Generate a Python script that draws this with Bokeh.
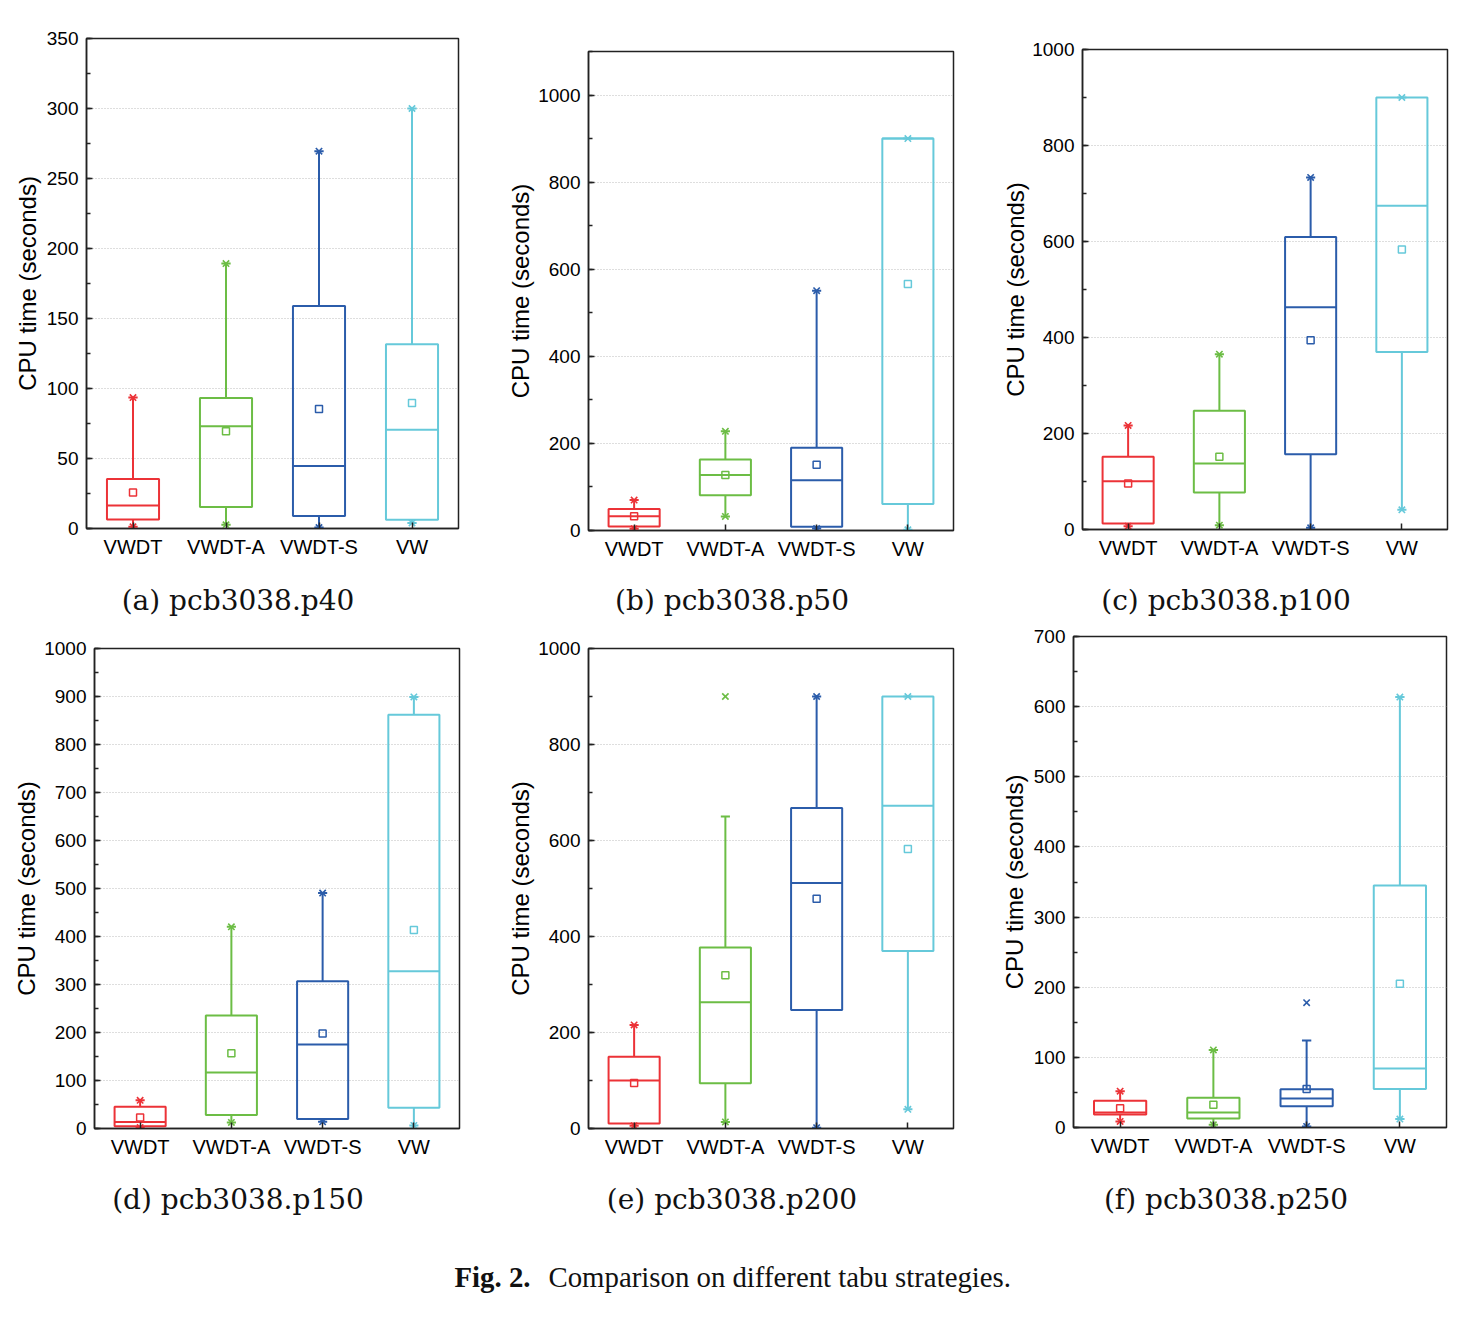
import numpy as np
from bokeh.plotting import figure
from bokeh.models import Range1d, SingleIntervalTicker, FixedTicker, Label, ColumnDataSource
from bokeh.layouts import column, row
from bokeh.embed import file_html
from bokeh.resources import INLINE

categories = ["VWDT", "VWDT-A", "VWDT-S", "VW"]
colors = ["#EC3237", "#6CBD45", "#2B5CAA", "#66C9DA"]
captions = ["(a) pcb3038.p40", "(b) pcb3038.p50", "(c) pcb3038.p100",
            "(d) pcb3038.p150", "(e) pcb3038.p200", "(f) pcb3038.p250"]

# (a) pcb3038.p40
p40_min = [1.2, 2.6, 0.7, 4.0]
p40_q1 = [6.5, 15.3, 8.9, 6.2]
p40_med = [16.5, 73.0, 44.7, 70.6]
p40_q3 = [35.4, 93.3, 158.9, 131.6]
p40_whi = [93.5, 189.2, 269.5, 300.0]
p40_max = [93.5, 189.2, 269.5, 300.0]
p40_mean = [25.8, 69.4, 85.4, 89.7]

# (b) pcb3038.p50
p50_min = [3.8, 32.3, 4.6, 1.5]
p50_q1 = [9.2, 80.8, 8.5, 60.8]
p50_med = [33.0, 127.7, 115.4, 900.0]
p50_q3 = [49.2, 163.0, 190.0, 900.0]
p50_whi = [70.0, 227.7, 550.6, 900.0]
p50_max = [70.0, 227.7, 550.6, 900.0]
p50_mean = [33.0, 127.7, 150.8, 566.0]

# (c) pcb3038.p100
p100_min = [7.0, 9.0, 3.5, 41.0]
p100_q1 = [12.5, 77.1, 157.0, 370.0]
p100_med = [100.7, 137.5, 463.0, 674.5]
p100_q3 = [151.4, 247.2, 609.3, 900.0]
p100_whi = [216.7, 365.3, 733.5, 900.0]
p100_max = [216.7, 365.3, 733.5, 900.0]
p100_mean = [95.8, 151.4, 394.4, 583.3]

# (d) pcb3038.p150
p150_min = [2.0, 12.6, 14.0, 6.3]
p150_q1 = [4.9, 28.0, 19.6, 43.4]
p150_med = [13.3, 116.8, 174.8, 327.5]
p150_q3 = [45.5, 235.6, 306.7, 861.8]
p150_whi = [58.7, 420.1, 490.4, 899.0]
p150_max = [58.7, 420.1, 490.4, 899.0]
p150_mean = [23.0, 156.6, 198.1, 413.7]

# (e) pcb3038.p200
p200_min = [5.6, 13.6, 1.6, 40.0]
p200_q1 = [10.4, 94.2, 246.8, 369.8]
p200_med = [99.8, 262.8, 511.2, 672.5]
p200_q3 = [149.4, 377.0, 667.7, 900.0]
p200_whi = [215.7, 650.2, 900.0, 900.0]
p200_max = [215.7, 900.0, 900.0, 900.0]
p200_mean = [95.0, 319.5, 478.4, 582.3]

# (f) pcb3038.p250
p250_min = [8.7, 3.9, 1.5, 12.0]
p250_q1 = [18.4, 13.0, 30.4, 55.0]
p250_med = [21.3, 21.3, 41.5, 84.0]
p250_q3 = [38.0, 42.5, 54.6, 345.0]
p250_whi = [51.7, 110.6, 124.0, 613.6]
p250_max = [51.7, 110.6, 178.0, 613.6]
p250_mean = [27.5, 32.4, 55.0, 204.8]

TICK_FONT = "Liberation Sans"


def make_panel(vmin, q1, med, q3, whi, vmax, mean, ymax, ystep,
               width, height, left, right, top, bottom, lab_standoff):
    p = figure(width=width, height=height, x_range=Range1d(0.5, len(categories) + 0.5),
               y_range=Range1d(0, ymax), output_backend="svg", toolbar_location=None, tools="",
               min_border_left=left, min_border_right=right, min_border_top=top,
               min_border_bottom=bottom, background_fill_color="white", border_fill_color="white")
    xs = np.arange(1, len(categories) + 1, dtype=float)
    hw = 0.28
    cw = 0.05
    src = ColumnDataSource(dict(x=xs, x0=xs - hw, x1=xs + hw, c0=xs - cw, c1=xs + cw,
                                vmin=vmin, q1=q1, med=med, q3=q3, whi=whi, vmax=vmax,
                                mean=mean, color=colors))
    p.segment(x0="x", y0="q3", x1="x", y1="whi", line_color="color", line_width=2, source=src)
    p.segment(x0="x", y0="q1", x1="x", y1="vmin", line_color="color", line_width=2, source=src)
    p.segment(x0="c0", y0="whi", x1="c1", y1="whi", line_color="color", line_width=2, source=src)
    p.segment(x0="c0", y0="vmin", x1="c1", y1="vmin", line_color="color", line_width=2, source=src)
    p.vbar(x="x", width=2 * hw, bottom="q1", top="q3", fill_color=None,
           line_color="color", line_width=2, source=src)
    p.segment(x0="x0", y0="med", x1="x1", y1="med", line_color="color", line_width=2, source=src)
    p.scatter(x="x", y="mean", marker="square", size=7, fill_color=None,
              line_color="color", line_width=1.5, source=src)
    p.scatter(x="x", y="vmax", marker="x", size=9, line_color="color", line_width=1.6, source=src)
    p.scatter(x="x", y="vmin", marker="x", size=9, line_color="color", line_width=1.6, source=src)

    p.xaxis.ticker = FixedTicker(ticks=list(xs))
    p.xaxis.major_label_overrides = {float(i + 1): c for i, c in enumerate(categories)}
    p.yaxis.ticker = SingleIntervalTicker(interval=ystep, num_minor_ticks=2)
    for ax in (p.xaxis[0], p.yaxis[0]):
        ax.axis_line_color = "#222222"
        ax.axis_line_width = 1.5
        ax.major_tick_line_color = "#222222"
        ax.major_tick_line_width = 1.5
        ax.major_tick_in = 6
        ax.major_tick_out = 0
        ax.major_label_text_font = TICK_FONT
        ax.major_label_text_color = "black"
    p.xaxis.minor_tick_line_color = None
    p.xaxis.major_label_text_font_size = "20px"
    p.xaxis.major_label_standoff = 7
    p.yaxis.major_label_text_font_size = "19px"
    p.yaxis.major_label_standoff = 8
    p.yaxis.minor_tick_in = 4
    p.yaxis.minor_tick_out = 0
    p.yaxis.minor_tick_line_color = "#222222"
    p.yaxis.minor_tick_line_width = 1.5
    p.yaxis.axis_label = "CPU time (seconds)"
    p.yaxis.axis_label_text_font = TICK_FONT
    p.yaxis.axis_label_text_font_size = "24px"
    p.yaxis.axis_label_text_font_style = "normal"
    p.yaxis.axis_label_text_color = "black"
    p.yaxis.axis_label_standoff = lab_standoff

    p.xgrid.visible = False
    p.ygrid.grid_line_color = "#bdbdbd"
    p.ygrid.grid_line_dash = "1 2"
    p.ygrid.grid_line_width = 1
    p.outline_line_color = "#222222"
    p.outline_line_width = 1.5
    return p


def strip(height, items):
    s = figure(width=1478, height=height, x_range=Range1d(0, 1), y_range=Range1d(0, 1),
               output_backend="svg", toolbar_location=None, tools="", min_border=0,
               outline_line_color=None, x_axis_location=None, y_axis_location=None)
    s.grid.visible = False
    for (text, x, y, font, size, style, align) in items:
        s.add_layout(Label(x=x, y=y, x_units="screen", y_units="screen", text=text,
                           text_font=font, text_font_size=size, text_font_style=style,
                           text_align=align, text_baseline="middle", text_color="#111111"))
    return s


# row 1 spans y 0..570, caption strip 570..625, row 2 625..1175, bottom strip 1175..1320
pa = make_panel(p40_min, p40_q1, p40_med, p40_q3, p40_whi, p40_max, p40_mean,
                350, 50, 490, 570, 86, 32, 38, 42, 3)
pb = make_panel(p50_min, p50_q1, p50_med, p50_q3, p50_whi, p50_max, p50_mean,
                1100, 200, 490, 570, 98, 27, 51, 40, 1)
pc = make_panel(p100_min, p100_q1, p100_med, p100_q3, p100_whi, p100_max, p100_mean,
                1000, 200, 498, 570, 102, 31, 49, 41, 0)
pd_ = make_panel(p150_min, p150_q1, p150_med, p150_q3, p150_whi, p150_max, p150_mean,
                 1000, 100, 490, 550, 94, 31, 23, 47, 1)
pe = make_panel(p200_min, p200_q1, p200_med, p200_q3, p200_whi, p200_max, p200_mean,
                1000, 200, 490, 550, 98, 27, 23, 47, 1)
pf = make_panel(p250_min, p250_q1, p250_med, p250_q3, p250_whi, p250_max, p250_mean,
                700, 100, 498, 550, 93, 32, 11, 48, 3)

SUB = ("DejaVu Serif", "28px", "normal", "center")
cap1 = strip(55, [(captions[0], 237.5, 25) + SUB,
                  (captions[1], 731.5, 25) + SUB,
                  (captions[2], 1225.5, 25) + SUB])
cap2 = strip(145, [(captions[3], 237.5, 121) + SUB,
                   (captions[4], 731.5, 121) + SUB,
                   (captions[5], 1225.5, 121) + SUB,
                   ("Fig. 2.", 454, 44, "Liberation Serif", "28.8px", "bold", "left"),
                   ("Comparison on different tabu strategies.", 548, 44,
                    "Liberation Serif", "28.8px", "normal", "left")])

layout = column(row(column(pa), column(pb), column(pc)), cap1,
                row(column(pd_), column(pe), column(pf)), cap2)
open("out.html", "w").write(file_html(layout, INLINE))
